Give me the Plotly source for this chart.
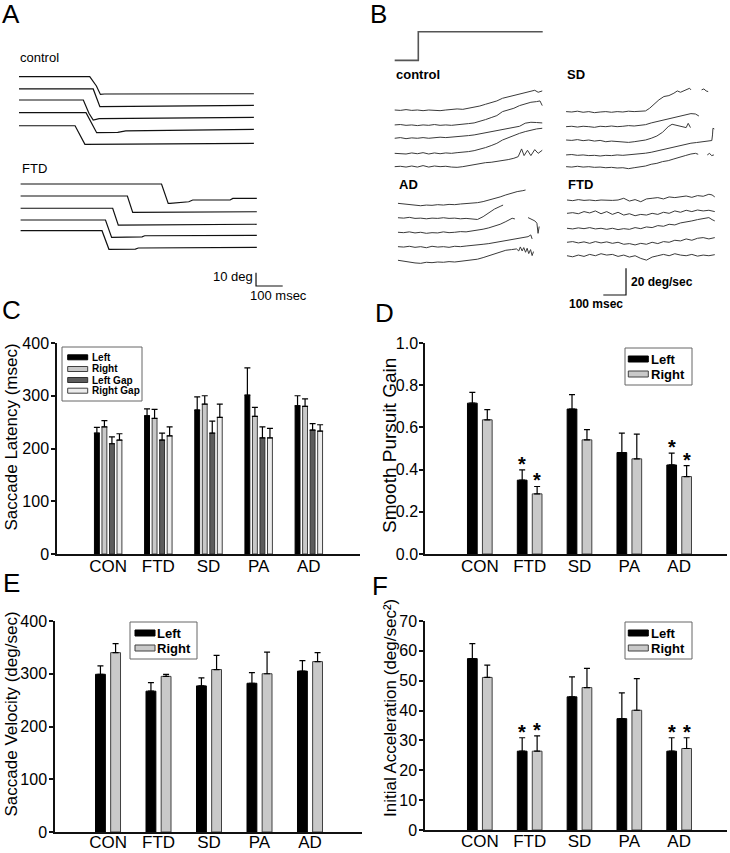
import plotly.graph_objects as go

W, H = 730, 853
FONT = "Arial, Liberation Sans, Helvetica, sans-serif"

# ------------------------------------------------------------------ data
GROUPS = ["CON", "FTD", "SD", "PA", "AD"]

# Panel C: saccade latency (msec)
LAT_SERIES = ["Left", "Right", "Left Gap", "Right Gap"]
LAT_MEAN = [
    [229, 262, 273, 301, 281],
    [241, 257, 284, 261, 280],
    [209, 216, 229, 220, 235],
    [216, 224, 259, 220, 233],
]
LAT_SEM = [
    [11, 13, 25, 52, 19],
    [12, 17, 16, 17, 14],
    [13, 13, 23, 21, 12],
    [12, 17, 25, 18, 12],
]

LR_SERIES = ["Left", "Right"]

# Panel D: smooth pursuit gain
GAIN_MEAN = [[0.715, 0.350, 0.687, 0.481, 0.422],
             [0.636, 0.285, 0.541, 0.451, 0.367]]
GAIN_SEM = [[0.051, 0.049, 0.068, 0.092, 0.056],
            [0.048, 0.035, 0.048, 0.117, 0.052]]
GAIN_SIG = [[0, 1, 0, 0, 1], [0, 1, 0, 0, 1]]

# Panel E: saccade velocity (deg/sec)
VEL_MEAN = [[299, 267, 277, 282, 305], [340, 295, 308, 300, 323]]
VEL_SEM = [[16, 16, 15, 20, 20], [17, 4, 27, 41, 17]]

# Panel F: initial acceleration (deg/sec^2)
ACC_MEAN = [[57.4, 26.4, 44.6, 37.3, 26.4], [51.1, 26.4, 47.7, 40.1, 27.3]]
ACC_SEM = [[5.0, 4.5, 6.7, 8.6, 4.5], [4.1, 5.1, 6.4, 10.6, 3.6]]
ACC_SIG = [[0, 1, 0, 0, 1], [0, 1, 0, 0, 1]]

# Panel A: saccade eye-position traces (time msec, position deg rel. to start)
A_CTRL_T = [
    [0, 265, 290, 305, 320, 880],
    [0, 278, 303, 575, 590, 880],
    [0, 241, 262, 278, 300, 880],
    [0, 251, 291, 370, 400, 880],
    [0, 210, 247, 880],
]
A_CTRL_V = [
    [0, 0, -7, -13.3, -13, -12.8],
    [0, 0, -13.3, -13, -12.6, -12.3],
    [0, 0, -10, -15, -14, -13],
    [0, 0, -15, -14.8, -13.6, -12.6],
    [0, 0, -14, -13.3],
]
A_FTD_T = [
    [0, 528, 553, 560, 630, 645, 785, 795, 885],
    [0, 400, 420, 885],
    [0, 345, 366, 885],
    [0, 318, 341, 455, 465, 885],
    [0, 305, 331, 430, 441, 885],
]
A_FTD_V = [
    [0, 0, -14.5, -14.5, -13.3, -12, -12, -10.8, -10.8],
    [0, 0, -12.3, -11.8],
    [0, 0, -12.6, -12],
    [0, 0, -13, -12.6, -11.8, -11.5],
    [0, 0, -14, -13.8, -13, -12.5],
]

# Panel B: smooth pursuit eye-velocity traces (time msec, deg/sec)
T25 = [0, 25, 50, 75, 100, 125, 150, 175, 200, 225, 250, 275, 300, 325, 350,
       375, 400, 425, 450, 475, 500, 525, 550, 575, 600, 625, 650]
STIM_T = [0, 104, 104, 652]
STIM_V = [0, 0, 21.5, 21.5]

B_CTRL_T = [
    T25[:25] + [617, 632, 650],
    T25[:25] + [625, 640, 650],
    T25[:27],
    T25[:27],
    T25[:22] + [544, 559, 570, 585, 600, 617, 632, 650],
]
B_CTRL_V = [
    [0, -0.3, 0.3, -0.3, 0, -0.5, 0, -0.3, -0.5, 0, 0.3, 0.8, 0.5, 1.3, 1.8,
     3, 4.3, 5.3, 6.8, 8.8, 9.8, 10.8, 11.8, 13.3, 13.8, 14.8, 13.3, 14.3],
    [0, 0.3, -0.3, 0, -0.5, 0, -0.3, 0.3, -0.3, 0, -0.3, 0.3, 0.5, 1, 1.5,
     2.5, 4, 5.5, 7, 10, 11, 12.5, 14.5, 16, 17, 17.5, 18, 14.5],
    [0, 0.5, -0.3, 0.3, 0, 0.5, 0, 0.3, 0.8, 0.5, 0.8, 1, 1.3, 2, 2.5,
     3.3, 4.5, 5, 6, 6.8, 7.5, 8.3, 9, 11.3, 12, 11.8, 11.5],
    [0, 0, -0.5, 0.3, -0.3, 0.5, -0.5, 0.3, -0.3, 0.3, 0, 0.5, 0.8, 1.3, 2,
     3, 4.3, 5.8, 7.5, 10, 11.8, 13.3, 15, 16.3, 17.5, 18.3, 18.8],
    [0, 0.3, -0.3, 0.5, -0.3, 0.8, -0.3, 0.5, 0, 0.3, -0.3, -0.5, 0, 0.8, 1.8,
     2.3, 3, 3.3, 3.8, 4.8, 5.3, 6.3, 7.5, 13.3, 8.3, 12.3, 8.3, 12.8, 10, 12.3],
]
B_SD_T = [
    T25[:15] + [368, 387, 409, 431, 453, 475, 490, 504, 519, 534, 544, 550,
                None, 597, 607, 617, 626],
    T25[:15] + [375, 400, 425, 450, 475, 500, 525, 550, 570, 585],
    T25[:15] + [375, 400, 425, 450, 467, 490, 512, 529, 538, 548],
    T25[:15] + [375, 400, 425, 450, 475, 500, 525, 550, 575, 600, 625, 642,
                645, 647, 653],
    T25[:15] + [375, 400, 425, 450, 475, 500, 525, 550, 570, 582, None,
                622, 632, 641, 651],
]
B_SD_V = [
    [0, -0.3, 0.3, -0.5, 0, -0.8, -0.3, 0, -0.5, 0, -0.3, 0.3, 0, 0.3, 0.5,
     2.5, 5.5, 8.8, 11.3, 12, 13.8, 15.5, 14.5, 15.5, 16.5, 17.5, 16.3,
     None, 16.3, 17, 15.5, 15],
    [0, 0.3, -0.3, 0.3, 0, -0.5, 0.3, 0, 0.5, 0, 0.3, 0.8, 0.5, 1, 1.5,
     2.8, 3.8, 5.3, 6.3, 7, 8, 9.3, 9.8, 9.5, 8],
    [0, -0.3, 0.3, -0.5, 0, -0.8, -0.3, -1.3, -0.8, -1, -1.3, -1.8, -1.3, -0.8, 0,
     1.3, 3, 5.8, 10, 11.8, 10.8, 10, 9.3, 12.5, 9.3],
    [0, 0.3, -0.3, 0, -0.5, -0.3, -0.8, -0.3, -0.5, 0, -0.3, 0, 0.3, 0.8, 1.3,
     2, 3, 4, 5, 6, 7, 8, 8.8, 9.3, 10, 10.5, 10.8, 15, 20, 19.5],
    [0, -0.3, 0.3, -0.3, 0, -0.5, -0.3, -0.8, -0.5, -1, -0.8, -1.5, -0.8, -0.3, 0.5,
     1.8, 2.5, 3.8, 4.5, 5.8, 6.8, 8.3, 9.5, 10, 9.3, None, 8.8, 10, 8.3, 8.8],
]
B_AD_T = [
    T25[:23] + [562],
    T25[:19] + [463],
    T25[:20] + [492, 503, 515, None, 573, 588, 603, 612, 617, 622],
    T25[:23] + [573, 585, 591],
    T25[:21] + [522, 532, 539, 547, 554, 562, 569, 576, 584, 591, 597],
]
B_AD_V = [
    [0, -0.5, -0.8, -1.3, -1.8, -1.3, -1.5, -1, -1.3, -0.8, -1, -0.5, -0.3, 0,
     0.5, 1.3, 2.3, 3.3, 4.8, 6.3, 7.8, 8.8, 9.5, 10],
    [0, -0.3, 0.3, -0.5, -0.3, -0.8, -0.3, -0.5, 0, -0.5, -0.3, -0.8, -0.5, -1,
     -1.3, 0.8, 4, 6.5, 8.5, 9.5],
    [0, -0.3, 0.3, -0.5, 0, -0.8, -0.3, -0.5, 0.3, -0.3, 0, 0.5, 0.3, 0.8, 1.5,
     2.3, 3.3, 4.5, 6, 8, 9.5, 10.5, 10, None, 11, 9.8, 8.5, 6.8, -0.8, 4.3],
    [0, -0.3, 0.3, -0.5, 0, -0.8, 0.3, -0.3, 0, -0.5, 0.3, 0, 0.5, 0.8, 1.3,
     1.8, 2.3, 3, 3.8, 4.5, 5.3, 6, 6.8, 7.5, 8.8, 5.8],
    [0.5, -0.3, -0.8, -1.5, -1.8, -1, -1.3, -0.8, -1, -0.5, -0.8, -0.3, 0, 0.5,
     1.3, 2.5, 4, 5.3, 7, 8, 8.5, 9, 7.5, 10.5, 7.5, 10, 6.5, 9.5, 5.5, 8.5, 4, 7],
]
B_FTD_T = [
    T25[:26] + [639, 651],
    T25[:26] + [651],
    T25[:26] + [639, 651],
    T25[:26] + [651],
    T25[:26] + [651],
]
B_FTD_V = [
    [0, -0.5, 0.3, -0.3, 0, -0.5, 0, -0.3, -0.3, 0, 1.3, -0.8, 0.3, -1.3, 0.8,
     1.3, 1.8, 0.8, 2.3, 1.8, 2.5, 3, 2, 3.3, 2.8, 4.3, 3.8, 2.3],
    [0, 0.5, -0.3, 1.3, 0.3, 1.8, -0.3, 1.3, -0.8, 0.8, -1.3, -0.3, -1.8, -0.8,
     -1.3, 0, -0.8, 0.8, 0, 1.8, 0.8, 2.3, 1.3, 2.5, 1.8, 2.3, 1.3],
    [0, -0.5, 0.3, -0.3, 0.5, -0.5, 0, -0.8, 0, -1, -0.3, -0.8, 0.5, -0.3, 1,
     0.5, 2, 1.5, 3, 2.5, 4, 4.5, 5.5, 6.5, 7.5, 8, 6.5, 5.5],
    [0, 0.5, -0.5, 0.3, -0.8, 0.5, -0.5, 0.3, -0.8, 0, -1.5, -1, -2, -0.8, -1.5,
     0, -1, 0.5, 0, 1.5, 1, 2.5, 1.5, 3, 3.5, 2.5, 3.5],
    [0, -0.8, 0.5, -0.5, 1, 0, 1.5, 0.5, 1, -0.5, 0.5, -1, 0, -2, -3.3, -1, 0,
     1, 0, 1.5, 0.5, 0, 1, -0.3, 0.5, 0, 0.8],
]

SCALE_A_DEG, SCALE_A_MS = 10, 100
SCALE_B_VEL, SCALE_B_MS = 20, 100

# ------------------------------------------------------------------ layout constants
BARGAP = 0.4
BARGROUPGAP = 0.35

A_CTRL_BASE = [167.5, 158.3, 150.0, 140.5, 130.7]
A_FTD_BASE = [87.0, 78.0, 68.8, 60.0, 52.0]
A_FTD_T0 = 6
B_PANELS = [
    ("control", B_CTRL_T, B_CTRL_V, 0, [150.0, 138.8, 128.8, 117.5, 107.5]),
    ("SD", B_SD_T, B_SD_V, 755, [148.8, 137.5, 127.5, 116.3, 107.5]),
    ("AD", B_AD_T, B_AD_V, 14.5, [80.0, 69.2, 58.3, 47.5, 36.8]),
    ("FTD", B_FTD_T, B_FTD_V, 759, [82.5, 72.5, 61.3, 50.8, 40.7]),
]
STIM_BASE = 187.2


def dx(p0, p1):
    return [p0 / W, p1 / W]


def dy(top, bot):
    return [1 - bot / H, 1 - top / H]


fig = go.Figure()

# ------------------------------------------------------------------ bars
C_COLORS = ["#000000", "#c9c9c9", "#5c5c5c", "#ececec"]
C_LINES = ["#000000", "#404040", "#303030", "#404040"]
LR_COLORS = ["#000000", "#c9c9c9"]
LR_LINES = ["#000000", "#404040"]


def add_bars(names, means, sems, colors, lines, n):
    for name, m, s, c, lc in zip(names, means, sems, colors, lines):
        fig.add_trace(go.Bar(
            x=GROUPS, y=m, name=name, showlegend=False,
            marker=dict(color=c, line=dict(color=lc, width=1)),
            error_y=dict(type="data", symmetric=False, array=s,
                         arrayminus=[0] * len(s), color="#000000",
                         thickness=1.2, width=3),
            xaxis="x" + n, yaxis="y" + n,
        ))


add_bars(LAT_SERIES, LAT_MEAN, LAT_SEM, C_COLORS, C_LINES, "")
add_bars(LR_SERIES, GAIN_MEAN, GAIN_SEM, LR_COLORS, LR_LINES, "2")
add_bars(LR_SERIES, VEL_MEAN, VEL_SEM, LR_COLORS, LR_LINES, "3")
add_bars(LR_SERIES, ACC_MEAN, ACC_SEM, LR_COLORS, LR_LINES, "4")


# ------------------------------------------------------------------ traces
def add_line(t, v, t0, base, n, color, width):
    xs = [None if a is None else a + t0 for a in t]
    ys = [None if b is None else b + base for b in v]
    fig.add_trace(go.Scatter(x=xs, y=ys, mode="lines", showlegend=False,
                             line=dict(color=color, width=width),
                             hoverinfo="skip", xaxis="x" + n, yaxis="y" + n))


for t, v, b in zip(A_CTRL_T, A_CTRL_V, A_CTRL_BASE):
    add_line(t, v, 0, b, "5", "#111111", 1.2)
for t, v, b in zip(A_FTD_T, A_FTD_V, A_FTD_BASE):
    add_line(t, v, A_FTD_T0, b, "5", "#111111", 1.2)

SA_T, SA_Y = 888, 10.5
add_line([0, 0, SCALE_A_MS], [SCALE_A_DEG, 0, 0], SA_T, SA_Y, "5", "#111111", 1.2)

for label, TT, VV, t0, bases in B_PANELS:
    for t, v, b in zip(TT, VV, bases):
        add_line(t, v, t0, b, "6", "#3a3a3a", 1.0)
add_line(STIM_T, STIM_V, 0, STIM_BASE, "6", "#555555", 1.6)

SB_T, SB_Y = 1019, 11.25
add_line([-SCALE_B_MS, 0, 0], [0, 0, SCALE_B_VEL], SB_T, SB_Y, "6", "#111111", 1.2)

# ------------------------------------------------------------------ axes
axis_line = dict(showline=True, linecolor="#111111", linewidth=1.5,
                 showgrid=False, zeroline=False, fixedrange=True)


def bar_axes(n, xd, yd, xr, yr, dtick, fmt=None, ystand=-1, xstand=-4):
    xa = dict(axis_line, domain=xd, range=xr, type="category", ticks="",
              tickfont=dict(size=17, color="#000", family=FONT),
              ticklabelstandoff=xstand, anchor="y" + n)
    ya = dict(axis_line, domain=yd, range=yr, ticks="outside", ticklen=4,
              tickwidth=1.5, tickcolor="#111111", dtick=dtick, tick0=0,
              tickfont=dict(size=16, color="#000", family=FONT),
              ticklabelstandoff=ystand, anchor="x" + n)
    if fmt:
        ya["tickformat"] = fmt
    return xa, ya


xa1, ya1 = bar_axes("", dx(57, 360), dy(343, 554), [-1.02, 5.02], [0, 400], 100)
xa2, ya2 = bar_axes("2", dx(425, 727), dy(343, 554), [-1.1, 4.96], [0, 1.0], 0.2, ".1f", -2)
xa3, ya3 = bar_axes("3", dx(55, 362), dy(621, 832), [-1.05, 5.03], [0, 400], 100, xstand=-6)
xa4, ya4 = bar_axes("4", dx(425, 727), dy(621, 830), [-1.1, 4.96], [0, 70], 10, xstand=-5)

hidden = dict(visible=False, fixedrange=True, showgrid=False, zeroline=False)
xa5 = dict(hidden, domain=dx(0, 365), range=[-71.2, 1296.3], anchor="y5")
ya5 = dict(hidden, domain=dy(0, 300), range=[0, 225.0], anchor="x5")
xa6 = dict(hidden, domain=dx(365, 730), range=[-130.8, 1477.1], anchor="y6")
ya6 = dict(hidden, domain=dy(0, 310), range=[0, 232.5], anchor="x6")

# ------------------------------------------------------------------ annotations
ann = []
shapes = []


def pa(x, y, text, size, xanchor="left", yanchor="middle", angle=0, weight="normal"):
    ann.append(dict(x=x / W, y=1 - y / H, xref="paper", yref="paper",
                    text=text, showarrow=False, xanchor=xanchor,
                    yanchor=yanchor, textangle=angle, borderpad=0,
                    font=dict(size=size, color="#000", family=FONT, weight=weight)))


for letter, x, y in [("A", 1, 14.5), ("B", 369, 14), ("C", 1, 310),
                     ("D", 374, 312.5), ("E", 2, 582.5), ("F", 370.5, 586)]:
    pa(x, y, letter, 26)

pa(10.5, 437, "Saccade Latency (msec)", 17, "center", "middle", -90)
pa(389, 446, "Smooth Pursuit Gain", 19, "center", "middle", -90)
pa(10.5, 714, "Saccade Velocity (deg/sec)", 17, "center", "middle", -90)
pa(390, 708, "Initial Acceleration (deg/sec²)", 17, "center", "middle", -90)


def da(x, y, ref, text, size, xanchor="left", yanchor="middle", weight="normal", yshift=0):
    ann.append(dict(x=x, y=y, xref="x" + ref, yref="y" + ref, text=text,
                    showarrow=False, xanchor=xanchor, yanchor=yanchor,
                    yshift=yshift, borderpad=0,
                    font=dict(size=size, color="#000", family=FONT, weight=weight)))


da(0, 181.9, "5", "control", 13)
da(A_FTD_T0, 99.0, "5", "FTD", 13)
da(SA_T - 8, SA_Y + 7.5, "5", f"{SCALE_A_DEG} deg", 13, "right")
da(SA_T + 85, SA_Y - 6.8, "5", f"{SCALE_A_MS} msec", 13, "center")

for label, TT, VV, t0, bases in B_PANELS:
    top = 176.3 if bases[0] > 100 else 93.8
    da(t0, top, "6", label, 13, weight="bold")
da(SB_T + 17, SB_Y + 10, "6", f"{SCALE_B_VEL} deg/sec", 12, weight="bold")
da(SB_T - 132, SB_Y - 6.8, "6", f"{SCALE_B_MS} msec", 12, "center", weight="bold")

half_slot = (1 - BARGAP) / 4
for n, means, sems, sig in [("2", GAIN_MEAN, GAIN_SEM, GAIN_SIG),
                            ("4", ACC_MEAN, ACC_SEM, ACC_SIG)]:
    for j, (m, s, flags) in enumerate(zip(means, sems, sig)):
        off = -half_slot if j == 0 else half_slot
        for i, f in enumerate(flags):
            if f:
                da(i + off, m[i] + s[i], n, "*", 20, "center", "bottom",
                   weight="bold", yshift=-6)


# ------------------------------------------------------------------ legends (drawn)
def draw_legend(box, names, colors, lines, row_y, sw_x, sw_h, text_x, size):
    x0, y0, x1, y1 = box
    shapes.append(dict(type="rect", xref="paper", yref="paper",
                       x0=x0 / W, x1=x1 / W, y0=1 - y0 / H, y1=1 - y1 / H,
                       line=dict(color="#666666", width=1), fillcolor="white",
                       layer="above"))
    for name, c, lc, yc in zip(names, colors, lines, row_y):
        shapes.append(dict(type="rect", xref="paper", yref="paper",
                           x0=sw_x[0] / W, x1=sw_x[1] / W,
                           y0=1 - (yc - sw_h / 2) / H, y1=1 - (yc + sw_h / 2) / H,
                           line=dict(color=lc, width=1), fillcolor=c,
                           layer="above"))
        pa(text_x, yc, name, size, weight="bold")


draw_legend((62, 347, 142, 401), LAT_SERIES, C_COLORS, C_LINES,
            [357.3, 369.0, 380.0, 390.7], (67.7, 87.7), 5, 90.5, 10)
draw_legend((625, 348, 692, 385), LR_SERIES, LR_COLORS, LR_LINES,
            [359.0, 374.0], (628.3, 648.3), 6, 649.5, 13)
draw_legend((130, 622, 197, 659), LR_SERIES, LR_COLORS, LR_LINES,
            [633.0, 648.0], (135, 155), 6, 156.2, 13)
draw_legend((625, 622, 692, 659), LR_SERIES, LR_COLORS, LR_LINES,
            [633.0, 648.0], (628.3, 648.3), 6, 649.5, 13)

fig.update_layout(
    width=W, height=H,
    margin=dict(l=0, r=0, t=0, b=0, pad=0, autoexpand=False),
    paper_bgcolor="white", plot_bgcolor="white",
    font=dict(family=FONT, color="#000"),
    barmode="group", bargap=BARGAP, bargroupgap=BARGROUPGAP,
    xaxis=xa1, yaxis=ya1, xaxis2=xa2, yaxis2=ya2, xaxis3=xa3, yaxis3=ya3,
    xaxis4=xa4, yaxis4=ya4, xaxis5=xa5, yaxis5=ya5, xaxis6=xa6, yaxis6=ya6,
    annotations=ann, shapes=shapes, showlegend=False,
)

fig.write_html(
    "out.html",
    config={"displayModeBar": False},
    post_script="document.body.style.margin='0';document.body.style.padding='0';",
)
